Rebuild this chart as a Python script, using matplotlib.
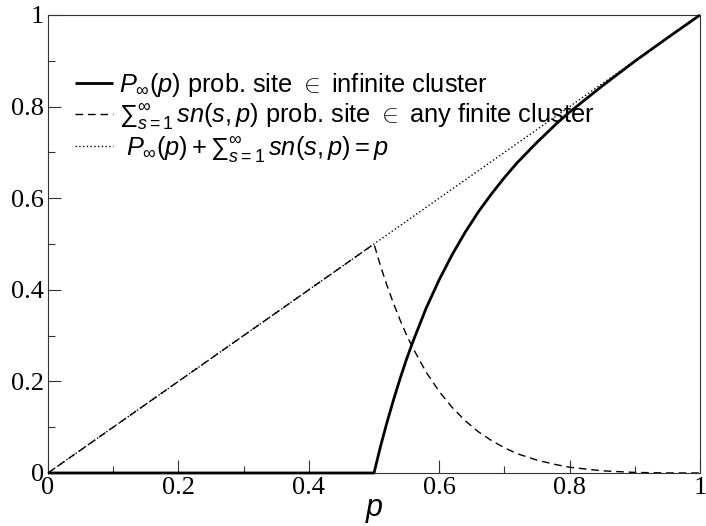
import matplotlib
matplotlib.use("Agg")
import matplotlib.pyplot as plt
from matplotlib.ticker import MultipleLocator

plt.rcParams["font.family"] = ["Liberation Sans", "DejaVu Sans"]
plt.rcParams["mathtext.fontset"] = "custom"
plt.rcParams["mathtext.rm"] = "Liberation Sans"
plt.rcParams["mathtext.it"] = "Liberation Sans:italic"
plt.rcParams["mathtext.sf"] = "Liberation Sans"

# P_inf(p): probability a site belongs to the infinite cluster
p_inf_x = [0.0, 0.5, 0.51, 0.52, 0.53, 0.54, 0.55, 0.56, 0.58, 0.60, 0.62, 0.64,
           0.66, 0.68, 0.70, 0.72, 0.75, 0.78, 0.80, 0.85, 0.90, 0.95, 1.0]
p_inf_y = [0.0, 0.0, 0.058, 0.111, 0.160, 0.206, 0.249, 0.288, 0.360, 0.422, 0.477,
           0.526, 0.570, 0.609, 0.645, 0.678, 0.722, 0.763, 0.788, 0.845, 0.899,
           0.950, 1.0]

# sum_s s n(s,p): probability a site belongs to some finite cluster
finite_x = [0.0, 0.5, 0.51, 0.52, 0.53, 0.54, 0.55, 0.56, 0.58, 0.60, 0.62, 0.64,
            0.66, 0.68, 0.70, 0.72, 0.75, 0.78, 0.80, 0.85, 0.90, 0.95, 1.0]
finite_y = [0.0, 0.5, 0.452, 0.409, 0.370, 0.334, 0.301, 0.272, 0.220, 0.178, 0.143,
            0.114, 0.090, 0.071, 0.055, 0.042, 0.028, 0.018, 0.0125, 0.0047, 0.0012,
            0.0001, 0.0]

# P_inf + sum = p
total_x = [0.0, 1.0]
total_y = [0.0, 1.0]

tick_vals = [0, 0.2, 0.4, 0.6, 0.8, 1]
tick_labels = ["0", "0.2", "0.4", "0.6", "0.8", "1"]

fig = plt.figure(figsize=(7.06, 5.26), dpi=100)
ax = fig.add_axes([0.068, 0.1008, 0.9235, 0.8707])

ax.plot(p_inf_x, p_inf_y, color="black", lw=2.0, solid_capstyle="butt",
        label=r"$P_\infty(p)$ prob. site $\in$ infinite cluster", clip_on=False, zorder=3)
ax.plot(finite_x, finite_y, color="black", lw=1.0, linestyle=(0, (5.5, 3.5)),
        label=r"${\sum}_{s=1}^{\infty}\, sn(s,p)$ prob. site $\in$ any finite cluster",
        clip_on=False)
ax.plot(total_x, total_y, color="black", lw=1.0, linestyle=(0, (1, 1.7)),
        label=r" $P_\infty(p) + {\sum}_{s=1}^{\infty}\, sn(s,p) = p$", clip_on=False)

ax.set_xlim(0, 1)
ax.set_ylim(0, 1)
ax.set_xticks(tick_vals)
ax.set_xticklabels(tick_labels)
ax.set_yticks(tick_vals)
ax.set_yticklabels(tick_labels)
ax.xaxis.set_minor_locator(MultipleLocator(0.1))
ax.yaxis.set_minor_locator(MultipleLocator(0.1))
ax.tick_params(which="both", direction="in", top=False, right=False, width=0.8,
               color="#333333")
ax.tick_params(which="major", length=9.5, pad=3)
ax.tick_params(which="minor", length=4.7)
for lab in ax.get_xticklabels() + ax.get_yticklabels():
    lab.set_family("Liberation Serif")
    lab.set_fontsize(19)

for sp in ax.spines.values():
    sp.set_linewidth(0.8)
    sp.set_color("#333333")

ax.set_xlabel(r"$p$", fontsize=22, labelpad=-3)

leg = ax.legend(loc="upper left", bbox_to_anchor=(0.041, 0.878), frameon=False,
                fontsize=18.3, handlelength=1.5, handletextpad=0.25, labelspacing=0.1,
                borderpad=0, borderaxespad=0)

fig.savefig("out.png", dpi=100)
